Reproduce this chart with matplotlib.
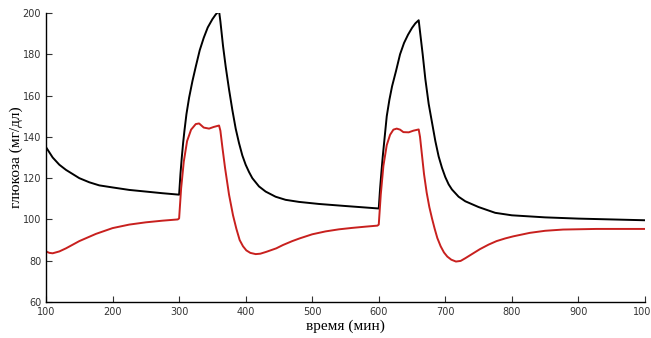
import matplotlib
matplotlib.use("Agg")
import matplotlib.pyplot as plt

# black curve: time (min) / glucose (mg/dl)
t_black = [100, 110, 120, 130, 140, 150, 165, 180, 200, 225, 250, 275, 300,
           302, 304, 306, 308, 311, 315, 320, 325, 331, 337, 343, 350, 355, 360,
           362, 366, 370, 375, 380, 385, 390, 395, 400, 405, 410, 420, 430, 445,
           460, 480, 510, 550, 600,
           602, 604, 606, 608, 612, 616, 620, 626, 632, 638, 644, 650, 655, 660,
           662, 666, 670, 675, 680, 685, 690, 695, 700, 705, 710, 720, 730, 750,
           775, 800, 850, 900, 950, 1000]
g_black = [135, 130, 126.5, 124, 122, 120, 118, 116.5, 115.5, 114.3, 113.5, 112.7, 112,
           122, 130, 137, 143, 151, 159, 167, 174, 182, 188, 193, 197, 199.3, 201,
           196, 184, 174, 163, 153, 144, 137, 131, 126.5, 123, 120, 116, 113.5, 111,
           109.5, 108.5, 107.5, 106.5, 105.3,
           115, 123, 130.5, 137, 150, 158, 164.5, 172, 180, 185.5, 189.5, 192.8, 195, 196.5,
           191, 180, 168, 156, 147, 138, 130.5, 125, 120.5, 117, 114.5, 111, 108.8, 106,
           103.2, 102, 101, 100.4, 100, 99.6]

# red curve
t_red = [100, 105, 110, 120, 130, 150, 175, 200, 225, 250, 275, 298,
         300, 303, 307, 312, 318, 325, 330, 337, 345, 352, 360,
         362, 365, 369, 375, 381, 386, 391, 396, 401, 407, 415, 422, 431, 446, 456,
         470, 481, 500, 520, 540, 560, 580, 598,
         600, 603, 607, 612, 617, 622, 627, 632, 637, 645, 652, 660,
         662, 665, 668, 672, 676, 680, 684, 688, 693, 698, 703, 709, 716, 723, 730, 740,
         752, 765, 777, 790, 802, 827, 850, 877, 927, 1000]
g_red = [84.5, 83.8, 83.6, 84.5, 86, 89.5, 93, 95.8, 97.5, 98.6, 99.4, 100,
         100.5, 115, 128, 138, 143.5, 146.2, 146.5, 144.5, 144, 144.8, 145.5,
         143, 135, 125, 112, 102, 95.5, 90, 87, 85, 83.8, 83.2, 83.4, 84.3, 86, 87.6,
         89.5, 90.8, 92.8, 94.2, 95.2, 95.9, 96.5, 97,
         97.5, 112, 126, 136, 141, 143.5, 144, 143.5, 142.3, 142.2, 143, 143.6,
         140, 131, 122, 113, 106, 100.5, 95.5, 91, 87, 84, 82, 80.5, 79.6, 79.9, 81.2, 83.2,
         85.6, 87.8, 89.5, 90.8, 91.8, 93.5, 94.5, 95.1, 95.4, 95.4]

xticks = [100, 200, 300, 400, 500, 600, 700, 800, 900, 1000]
yticks = [60, 80, 100, 120, 140, 160, 180, 200]

fig = plt.figure(figsize=(6.51, 3.38), dpi=100)
ax = fig.add_axes([0.0707, 0.1065, 0.92, 0.855])

ax.plot(t_black, g_black, color="black", lw=1.4)
ax.plot(t_red, g_red, color="#c8201e", lw=1.4)

ax.set_xlim(100, 1000)
ax.set_ylim(60, 200)
ax.set_xticks(xticks)
ax.set_yticks(yticks)
for s in ["top", "right"]:
    ax.spines[s].set_visible(False)
for s in ["left", "bottom"]:
    ax.spines[s].set_linewidth(1.0)
ax.tick_params(direction="in", length=4, width=0.8, labelsize=7, colors="#333333")
for lab in ax.get_xticklabels() + ax.get_yticklabels():
    lab.set_family(["Liberation Sans Narrow", "DejaVu Sans"])

ax.set_xlabel("время (мин)", family="Liberation Serif", fontsize=11, labelpad=2)
ax.set_ylabel("глюкоза (мг/дл)", family="Liberation Serif", fontsize=11, labelpad=0)

fig.savefig("out.png", dpi=100)
